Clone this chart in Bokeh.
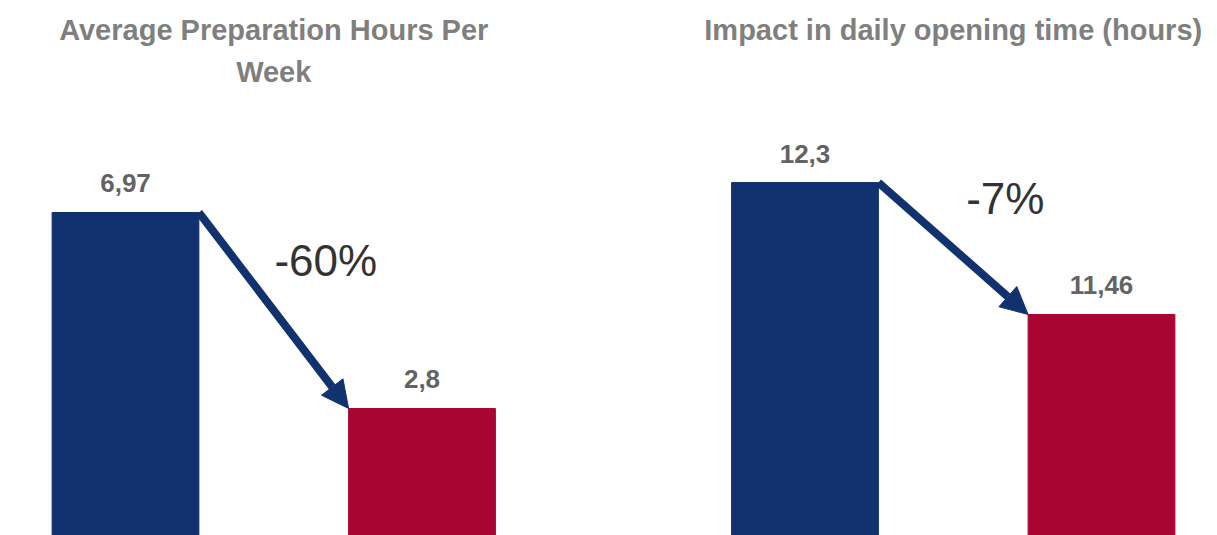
from bokeh.plotting import figure
from bokeh.models import ColumnDataSource, Range1d, Arrow, NormalHead, Label
from bokeh.layouts import row
from bokeh.core.properties import value
from bokeh.embed import file_html
from bokeh.resources import INLINE

# --- data -------------------------------------------------------------
categories = ["Before", "After"]
prep_hours = [6.97, 2.8]          # average preparation hours per week
opening_hours = [12.3, 11.46]     # daily opening time (hours)
prep_title = ["Average Preparation Hours Per", "Week"]
opening_title = ["Impact in daily opening time (hours)"]

# --- style ------------------------------------------------------------
BLUE = "#12326F"
RED = "#A80533"
TITLE_GREY = "#7F7F7F"
VALUE_GREY = "#636363"
PCT_GREY = "#333333"
FONT = "Liberation Sans"
BAR_W = 0.495
H = 535


def fmt(v):
    return f"{v:g}".replace(".", ",")


def panel(values, title_lines, width, x_range, y_range, base):
    xs = list(range(len(categories)))
    src = ColumnDataSource(dict(
        x=xs, top=values, bottom=[base] * len(values),
        color=[BLUE, RED], label=[fmt(v) for v in values],
    ))
    p = figure(width=width, height=H, x_range=Range1d(*x_range),
               y_range=Range1d(*y_range), output_backend="svg",
               toolbar_location=None, x_axis_location=None,
               y_axis_location=None, min_border=0)
    p.grid.visible = False
    p.outline_line_color = None
    p.background_fill_color = "white"
    p.border_fill_color = "white"

    p.vbar(x="x", top="top", bottom="bottom", width=BAR_W, color="color",
           source=src)

    p.text(x="x", y="top", text="label", source=src,
           text_font=value(FONT), text_font_style="bold",
           text_font_size="26px", text_color=VALUE_GREY,
           text_align="center", text_baseline="alphabetic", y_offset=-29)

    # arrow from the top corner of the first bar to the second
    x0, y0 = xs[0] + BAR_W / 2, values[0]
    x1, y1 = xs[1] - BAR_W / 2, values[1]
    p.add_layout(Arrow(
        end=NormalHead(size=27, fill_color=BLUE, line_color=BLUE),
        x_start=x0, y_start=y0, x_end=x1, y_end=y1,
        line_color=BLUE, line_width=8))

    change = (values[1] - values[0]) / values[0] * 100
    p.add_layout(Label(
        x=(x0 + x1) / 2, y=(y0 + y1) / 2, x_offset=52, y_offset=50,
        text=f"{change:.0f}%", text_font=FONT, text_font_size="44px",
        text_color=PCT_GREY, text_align="center", text_baseline="middle"))

    mid = (xs[0] + xs[-1]) / 2
    for i, line in enumerate(title_lines):
        p.add_layout(Label(
            x=mid, y=H - 13 - 42 * i, y_units="screen", text=line,
            text_font=FONT, text_font_style="bold",
            text_font_size="29px", text_color=TITLE_GREY,
            text_align="center", text_baseline="top"))
    return p


left = panel(prep_hours, prep_title, 608, (-0.4216, 1.6290),
             (0.098, 11.48), 0)
right = panel(opening_hours, opening_title, 609, (-0.6627, 1.3912),
              (10.053, 13.459), 10)

layout = row(left, right, spacing=0)
open("out.html", "w").write(file_html(layout, INLINE))
